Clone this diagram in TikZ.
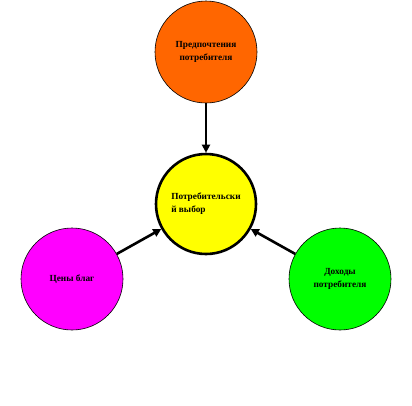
\documentclass[tikz,border=0pt]{standalone}
\usepackage{fontspec}
\setmainfont{Liberation Serif}
\usetikzlibrary{arrows.meta}
\definecolor{cpref}{RGB}{255,102,0}
\definecolor{cchoice}{RGB}{255,255,0}
\definecolor{cprice}{RGB}{255,0,255}
\definecolor{cincome}{RGB}{0,255,0}
\begin{document}
\begin{tikzpicture}[x=1pt,y=-1pt,
  circ/.style={circle,draw=black,line width=0.6pt,minimum size=102pt,inner sep=0pt,
    font=\fontsize{9.3}{13}\selectfont\bfseries,align=center},
  conn/.style={line width=2.6pt,-{Triangle[length=8pt,width=8pt]}}]
\useasboundingbox (0,0) rectangle (412,405);
\node[circ,fill=cpref] (pref) at (206,52) {Предпочтения\\потребителя};
\node[circ,fill=cchoice,line width=2.6pt,minimum size=100pt,align=left] (choice) at (206,204) {Потребительски\\й выбор};
\node[circ,fill=cprice] (price) at (72,279) {Цены благ};
\node[circ,fill=cincome] (income) at (340,279) {Доходы\\потребителя};
\draw[conn] (pref) -- (choice);
\draw[conn] (price) -- (choice);
\draw[conn] (income) -- (choice);
\end{tikzpicture}
\end{document}
